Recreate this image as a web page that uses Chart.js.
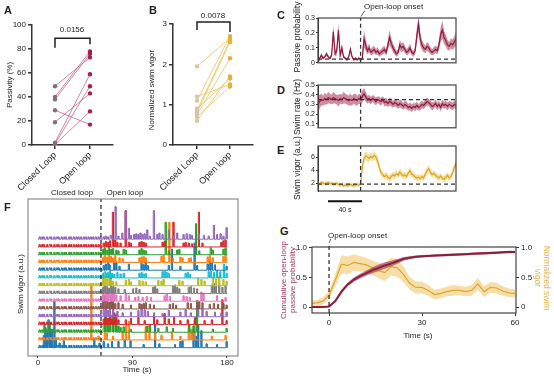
<!DOCTYPE html>
<html>
<head>
<meta charset="utf-8">
<script src="https://cdn.jsdelivr.net/npm/chart.js@4.4.1/dist/chart.umd.min.js"></script>
<style>
  body { margin: 0; background: #fff; }
  #fig { position: relative; width: 554px; height: 377px; overflow: hidden;
         font-family: "Liberation Sans", Arial, sans-serif; color: #222; }
  #fig canvas { position: absolute; }
  .t { position: absolute; white-space: nowrap; line-height: 1; }
</style>
</head>
<body>
<div id="fig"></div>
<script>
// ---- A: passivity, closed vs open loop (paired fish)
const pairLabels = ['Closed Loop', 'Open loop'];
const passClosed = [49, 40, 38, 29, 19, 2, 1, 0.5];
const passOpen   = [73, 78, 76, 17, 43, 59, 49, 28];

// ---- B: normalized swim vigor
const vigClosed = [1.95, 1.2, 1.1, 0.9, 0.85, 0.8, 0.75, 0.7, 0.6];
const vigOpen   = [2.65, 1.5, 2.7, 1.65, 2.6, 2.55, 2.15, 1.45, 1.7];

// ---- C/D/E: averaged traces around open-loop onset (time in s)
const tTrace = [
  -50,-48,-46,-44,-42,-40,-38,-36,-34,-32,
  -30,-28,-26,-24,-22,-20,-18,-16,-14,-12,
  -10,-8,-6,-4,-2,0,2,4,6,8,
  10,12,14,16,18,20,22,24,26,28,
  30,32,34,36,38,40,42,44,46,48,
  50,52,54,56,58,60,62,64,66,68,
  70,72,74,76,78,80,82,84,86,88,
  90,92,94,96,98,100,102,104,106,108,
  110,112];
const passMean = [
  0.00,0.03,0.05,0.03,0.04,0.06,0.04,0.03,0.05,0.21,
  0.06,0.08,0.22,0.05,0.10,0.04,0.03,0.02,0.04,0.09,
  0.04,0.02,0.03,0.02,0.03,0.02,0.03,0.16,0.12,0.08,
  0.10,0.07,0.08,0.09,0.07,0.08,0.06,0.07,0.08,0.09,
  0.07,0.12,0.17,0.13,0.10,0.08,0.06,0.07,0.12,0.10,
  0.11,0.09,0.07,0.08,0.10,0.07,0.06,0.08,0.18,0.26,
  0.16,0.12,0.10,0.09,0.11,0.10,0.08,0.07,0.08,0.09,
  0.08,0.12,0.19,0.22,0.17,0.15,0.12,0.11,0.13,0.12,
  0.14,0.16];
const passSem = [
  0.005,0.01,0.015,0.01,0.01,0.015,0.01,0.01,0.015,0.05,
  0.02,0.03,0.05,0.015,0.03,0.01,0.01,0.008,0.01,0.025,
  0.01,0.008,0.01,0.008,0.01,0.008,0.01,0.06,0.04,0.025,
  0.03,0.02,0.025,0.025,0.02,0.025,0.02,0.02,0.025,0.025,
  0.02,0.035,0.05,0.035,0.03,0.025,0.02,0.02,0.035,0.03,
  0.03,0.025,0.02,0.025,0.03,0.02,0.02,0.025,0.05,0.06,
  0.045,0.035,0.03,0.025,0.03,0.03,0.025,0.02,0.025,0.025,
  0.025,0.035,0.05,0.06,0.045,0.04,0.035,0.03,0.035,0.035,
  0.04,0.045];
const rateMean = [
  0.30,0.33,0.35,0.34,0.36,0.35,0.37,0.36,0.35,0.37,
  0.36,0.35,0.34,0.36,0.35,0.37,0.36,0.35,0.34,0.35,
  0.34,0.36,0.35,0.34,0.36,0.35,0.38,0.41,0.38,0.35,
  0.36,0.34,0.36,0.35,0.33,0.35,0.34,0.33,0.35,0.32,
  0.33,0.31,0.33,0.32,0.30,0.32,0.31,0.29,0.31,0.30,
  0.28,0.30,0.29,0.27,0.28,0.26,0.28,0.27,0.29,0.27,
  0.28,0.30,0.29,0.31,0.33,0.32,0.30,0.28,0.29,0.31,
  0.28,0.30,0.27,0.31,0.29,0.30,0.28,0.30,0.29,0.28,
  0.30,0.29];
const rateSem = [
  0.10,0.07,0.06,0.05,0.06,0.05,0.06,0.05,0.05,0.06,
  0.05,0.05,0.06,0.05,0.05,0.06,0.05,0.05,0.05,0.06,
  0.05,0.05,0.06,0.05,0.05,0.05,0.06,0.06,0.05,0.04,
  0.04,0.04,0.035,0.04,0.04,0.035,0.04,0.04,0.035,0.04,
  0.04,0.035,0.04,0.04,0.035,0.04,0.04,0.035,0.04,0.04,
  0.035,0.04,0.04,0.035,0.04,0.04,0.035,0.04,0.04,0.035,
  0.04,0.04,0.035,0.04,0.04,0.035,0.04,0.04,0.035,0.04,
  0.04,0.035,0.04,0.04,0.035,0.04,0.04,0.035,0.04,0.04,
  0.04,0.04];
const vigorMean = [
  2.0,1.9,2.1,2.0,1.9,2.0,2.1,1.9,2.0,1.8,
  1.9,2.0,1.8,1.7,1.8,1.6,1.7,1.6,1.7,1.8,
  1.7,1.6,1.7,1.8,1.7,1.9,4.5,5.8,6.2,6.0,
  5.8,6.1,5.9,6.3,6.0,5.4,4.4,3.6,3.3,3.0,
  3.2,2.9,2.7,3.0,3.3,3.1,3.5,3.2,3.7,3.4,
  3.1,3.3,3.0,3.6,3.9,3.4,3.2,3.0,2.8,2.9,
  2.7,3.0,2.8,3.4,3.9,4.2,3.7,3.3,3.5,3.2,
  3.0,2.8,3.1,2.7,2.6,2.9,3.2,2.8,3.0,3.6,
  4.4,5.0];
const vigorSem = [
  0.3,0.3,0.3,0.3,0.3,0.3,0.3,0.3,0.3,0.3,
  0.3,0.3,0.3,0.3,0.3,0.3,0.3,0.3,0.3,0.3,
  0.3,0.3,0.3,0.3,0.3,0.3,0.5,0.7,0.7,0.7,
  0.6,0.6,0.6,0.7,0.6,0.7,0.6,0.5,0.5,0.5,
  0.5,0.5,0.5,0.5,0.5,0.5,0.5,0.5,0.6,0.5,
  0.5,0.5,0.5,0.5,0.6,0.5,0.5,0.5,0.5,0.5,
  0.5,0.5,0.5,0.5,0.6,0.6,0.5,0.5,0.5,0.5,
  0.5,0.5,0.5,0.5,0.5,0.5,0.5,0.5,0.5,0.6,
  0.6,0.6];

// ---- F: swim bouts per fish, [time s, vigor] (fish1 = bottom trace)
const clBouts = [1, 3.5, 5, 8, 10.5, 12, 15, 17.5, 19, 22, 24.5, 26, 29, 31, 33.5, 36, 38, 40.5, 43, 45, 47.5, 50, 52, 54.5, 57, 59];
const fish1  = [[5,1.6],[6.5,2.6],[8,1.9],[9.5,3.6],[11,2.0],[12.5,2.4],[15,6.0],[16.5,1.2],[20,0.6],[24,0.9],[53,1.2],[58,0.6],[62,0.8],[66,0.5],[70,0.8],[76,0.8],[82,1.0],[87.5,0.9],[100,0.4],[111,3.0],[115,0.5],[130,0.4],[135,0.8],[137,0.9],[147.5,2.3],[150,1.5],[152,3.0],[155,2.2],[160,0.5],[170,0.4],[179,0.8]];
const fish2  = [[50.2,7.0],[57,0.5],[63,0.9],[65,0.9],[71,0.5],[80,1.1],[83,2.0],[86,2.4],[102,1.7],[105.5,1.9],[111,1.0],[117,0.6],[127,1.0],[135,0.5],[143,1.8],[145.5,1.4],[148.5,2.5],[165,0.5],[178,0.6]];
const fish3  = [[5.5,1.2],[10.5,1.1],[62,1.2],[63.5,2.0],[65,1.5],[66.5,1.8],[68,1.3],[69.5,2.2],[71,1.4],[72.5,1.6],[74,1.0],[76,0.8],[78,0.6],[81,0.7],[88,0.4],[103,0.8],[106,1.0],[114,0.5],[122,0.7],[128,0.5],[143.5,1.0],[147.5,0.8],[151,3.5],[166,0.4],[179,0.5]];
const fish4  = [[62,0.7],[64,0.9],[66,0.8],[68,1.0],[70,0.7],[72,1.5],[74,1.3],[76,0.6],[83,0.6],[88,0.8],[95,0.9],[101,0.5],[110,1.0],[113,0.6],[120,1.4],[124,0.7],[129,0.9],[135,0.5],[142,0.6],[149,0.9],[158,0.5],[165,0.6],[175,3.2],[179,0.5]];
const fish5  = [[62,0.9],[64,1.4],[66,0.8],[68,1.0],[71,1.6],[75,0.7],[80,0.5],[88,0.6],[95,0.8],[98,1.0],[101,0.9],[104,0.7],[110,0.5],[118,0.4],[124,0.8],[135,0.6],[140,0.9],[145,0.5],[152,1.4],[156,1.0],[160,0.7],[168,0.6],[174,0.5],[179,0.6]];
const fish6  = [[61.5,1.0],[63,1.7],[65,1.2],[67,0.9],[69,1.5],[71,1.0],[73,0.7],[76,0.8],[80,0.6],[88,0.5],[96,0.7],[98,0.6],[100,0.7],[102,0.8],[106,0.6],[110,0.5],[125,0.6],[128,0.7],[131,0.5],[142,0.8],[145,0.7],[151,1.1],[153,1.0],[156,0.8],[163,0.6],[167,0.7],[171,0.6],[176,0.7],[179,0.5]];
const fish7  = [[61.5,1.2],[63,2.0],[64.5,1.1],[66,1.5],[68,0.9],[70,1.8],[72,1.0],[74,0.8],[78,0.7],[83,0.9],[86,0.7],[92,0.5],[95,0.6],[99,0.5],[103,0.6],[107,0.5],[120,0.7],[122,0.9],[125,0.6],[138,0.7],[141,0.6],[144,0.5],[155,1.2],[157,1.0],[170,0.7],[178,0.5]];
const fish8  = [[61.5,0.8],[63,1.1],[65,0.9],[67,0.7],[69,2.4],[71,0.9],[73,0.8],[76,0.6],[82,0.5],[90,0.6],[93,0.7],[96,0.5],[109,0.8],[111,0.9],[113,0.6],[128,1.0],[130,1.1],[132,0.8],[134,0.6],[143,0.8],[145,0.9],[148,0.7],[151,0.6],[165,1.1],[167,1.3],[169,0.9],[172,1.2],[175,0.8],[178,1.0]];
const fish9  = [[61.5,1.0],[63,1.2],[65,0.9],[67,1.1],[69,0.8],[71,0.6],[74,0.5],[83,0.7],[86,0.8],[88,0.5],[96,0.7],[99,0.6],[102,0.5],[114,0.7],[117,0.6],[119,0.8],[134,0.7],[137,0.6],[152,1.0],[155,0.8],[158,0.6],[166,1.1],[169,0.9],[172,1.2],[176,0.8],[179,0.6]];
const fish10 = [[61.5,0.6],[63,0.8],[64.5,0.6],[66,0.7],[68,0.9],[70,0.6],[72,0.5],[75,0.7],[78,0.5],[81,0.6],[96,0.6],[98,0.7],[100,0.5],[102,0.6],[118,0.8],[120,0.9],[122,0.7],[124,0.6],[140,0.6],[142,0.7],[144,0.5],[162,0.8],[164,0.9],[167,0.7],[170,1.0],[173,0.8],[176.5,1.8],[179,0.6]];
const fish11 = [[62,0.6],[64,0.8],[66,1.0],[67.5,0.7],[72,1.0],[74,1.1],[77,0.5],[86,0.8],[98,0.9],[100,0.7],[102,1.0],[104,0.6],[124,0.6],[127,2.7],[135,0.5],[148.5,3.5],[151,0.6],[161,0.8],[163,1.2],[165,1.0],[168,0.7],[179,0.5]];
const fish12 = [[61.5,0.6],[63,0.9],[65,0.7],[67,1.0],[69,0.8],[71,0.6],[73,0.9],[77,0.6],[80,0.5],[96,0.6],[98,0.7],[100,0.8],[102,0.6],[117,0.8],[119,0.9],[124.5,5.2],[128,0.5],[135,0.7],[137,0.6],[143,0.5],[145,0.6],[161,0.7],[163,0.9],[166,0.6],[176,0.8],[178,1.0]];
const fish13 = [[61.5,0.7],[63,0.9],[65,0.6],[67,1.0],[69,0.7],[71,0.8],[74,0.6],[76,0.5],[81,0.7],[83,0.6],[96,0.6],[98,0.8],[100,0.6],[102,0.5],[121,4.2],[124,0.5],[132,0.6],[134,0.7],[150,4.0],[153,0.5],[164,0.9],[166,0.6],[176,0.7],[178,0.9]];
const fish14 = [[62,0.5],[64,0.7],[66,0.6],[68,0.8],[70.8,4.5],[73,0.9],[75,0.6],[78,0.5],[82.9,4.7],[86,0.6],[88,0.5],[96,0.6],[98,0.7],[100,0.6],[102,0.5],[118,0.6],[120,0.7],[128.4,3.2],[138,0.5],[140,0.6],[143,0.5],[146,0.4],[152.7,4.5],[156,0.5],[174,0.6],[176,0.8],[178,0.9]];
const fish15 = [[62,0.3],[64,0.4],[66,0.3],[68.6,0.5],[70,0.4],[73.3,4.2],[76,0.4],[79.7,0.8],[82.9,3.6],[86,1.4],[88,0.5],[91,0.6],[93,0.7],[95,0.6],[97,0.8],[99,0.6],[101,0.7],[103.5,1.2],[106,0.4],[109.8,3.7],[113,0.6],[115,0.8],[118,0.6],[124,1.2],[128,0.4],[132,0.8],[138,0.6],[141,0.7],[144,0.6],[146,0.5],[152.7,0.7],[157.5,0.5],[162,0.4],[167,1.8],[170,0.6],[173.3,0.7],[176,0.4],[179,1.5]];
const fishTraces = [fish1, fish2, fish3, fish4, fish5, fish6, fish7, fish8, fish9, fish10, fish11, fish12, fish13, fish14, fish15];
const fTicks = [0, 90, 180];

// ---- G: cumulative passive probability and normalized vigor after onset
const tOnset = [-6,-4,-2,0,2,4,6,8,10,12, 14,16,18,20,22,24,26,28,30,32, 34,36,38,40,42,44,46,48,50,52, 54,56,58,60];
const cumPass = [0,0,0,0.01,0.1,0.26,0.38,0.46,0.52,0.57, 0.62,0.66,0.7,0.73,0.77,0.81,0.83,0.845,0.855,0.86,
                 0.865,0.87,0.875,0.88,0.885,0.89,0.895,0.9,0.905,0.91, 0.915,0.92,0.925,0.925];
const cumPassSem = [0.005,0.005,0.005,0.01,0.02,0.03,0.03,0.035,0.04,0.045, 0.05,0.055,0.055,0.05,0.04,0.03,0.025,0.02,0.02,0.02,
                    0.02,0.02,0.02,0.02,0.02,0.02,0.02,0.02,0.02,0.02, 0.02,0.02,0.02,0.02];
const normVig = [0.06,0.07,0.1,0.2,0.45,0.72,0.7,0.75,0.73,0.71, 0.66,0.61,0.58,0.68,0.66,0.55,0.4,0.33,0.33,0.28,
                 0.21,0.23,0.26,0.28,0.28,0.26,0.28,0.39,0.26,0.33, 0.32,0.27,0.24,0.23];
const normVigSem = [0.05,0.05,0.06,0.07,0.1,0.15,0.15,0.14,0.13,0.12, 0.12,0.13,0.14,0.15,0.15,0.13,0.11,0.1,0.1,0.09,
                    0.08,0.08,0.08,0.09,0.08,0.08,0.09,0.1,0.09,0.09, 0.09,0.08,0.07,0.07];

// ---------------------------------------------------------------
const fig = document.getElementById('fig');
const FAM = '"Liberation Sans", Arial, sans-serif';
const TAB10 = ['#1f77b4','#ff7f0e','#2ca02c','#d62728','#9467bd','#8c564b','#e377c2','#7f7f7f','#bcbd22','#17becf'];
const CRIMSON = '#8c1c3c', CRIMSON_BAND = 'rgba(165,45,80,0.55)';
const GOLD = '#d9a521', GOLD_BAND = 'rgba(240,198,90,0.55)';

function canvas(left, top, w, h) {
  const c = document.createElement('canvas');
  c.width = w; c.height = h;
  c.style.left = left + 'px'; c.style.top = top + 'px';
  fig.appendChild(c);
  return c;
}
function label(text, x, y, o = {}) {
  const d = document.createElement('div');
  d.className = 't';
  d.textContent = text;
  d.style.left = x + 'px';
  d.style.top = y + 'px';
  d.style.fontSize = (o.size || 8) + 'px';
  if (o.color) d.style.color = o.color;
  if (o.bold) d.style.fontWeight = 'bold';
  d.style.transform = o.left ? 'translate(0,-50%)' : 'translate(-50%,-50%) rotate(' + (o.rot || 0) + 'deg)';
  fig.appendChild(d);
}
const ticksAt = vals => s => { s.ticks = vals.map(v => ({ value: v })); };
const fixW = w => s => { s.width = w; };
const fixH = h => s => { s.height = h; };
const xy = (xs, ys) => xs.map((x, i) => ({ x: x, y: ys[i] }));

const frameBox = {
  id: 'frameBox',
  afterDatasetsDraw(chart, args, opts) {
    if (!opts.color) return;
    const a = chart.chartArea, ctx = chart.ctx;
    ctx.save();
    ctx.strokeStyle = opts.color;
    ctx.lineWidth = opts.width || 1;
    ctx.strokeRect(a.left, a.top, a.right - a.left, a.bottom - a.top);
    ctx.restore();
  }
};

function baseOptions(pad) {
  return {
    responsive: false, animation: false,
    layout: { padding: pad },
    plugins: { legend: { display: false }, tooltip: { enabled: false } },
    elements: { line: { tension: 0 }, point: { radius: 0 } }
  };
}
function hiddenAxis(extra) {
  return Object.assign({ type: 'linear', ticks: { display: false }, grid: { display: false }, border: { display: false } }, extra);
}
function tickAxis(extra, size, width) {
  return Object.assign({
    type: 'linear',
    ticks: { font: { family: FAM, size: size || 8 }, color: '#222', padding: 2, autoSkip: false },
    grid: { drawOnChartArea: false, tickLength: 3, color: '#333', lineWidth: width || 1 },
    border: { display: true, color: '#333', width: width || 1 }
  }, extra);
}

// ---------- A and B: paired dot plots
function pairedPanel(left, area, yMax, yTicks, closed, open, cLine, cPt1, cPt2, bracket, xMin, xMax) {
  const W = 130, H = 190;
  const ds = [];
  closed.forEach((v, i) => ds.push({ data: [{ x: 0, y: v }, { x: 1, y: open[i] }], borderColor: cLine, borderWidth: 1, order: 2 }));
  ds.push({ data: closed.map(v => ({ x: 0, y: v })), showLine: false, pointRadius: 2.2, pointBorderWidth: 0, pointBackgroundColor: cPt1, order: 1 });
  ds.push({ data: open.map(v => ({ x: 1, y: v })), showLine: false, pointRadius: 2.2, pointBorderWidth: 0, pointBackgroundColor: cPt2, order: 1 });
  ds.push({ data: bracket, borderColor: '#222', borderWidth: 1.5, clip: false, order: 0 });
  const opt = baseOptions({ left: 0, top: area[1], right: left + W - area[2], bottom: 0 });
  opt.scales = {
    x: tickAxis({ min: xMin, max: xMax, afterBuildTicks: ticksAt([0, 1]), afterFit: fixH(H - area[3]) }, 9, 1.5),
    y: tickAxis({ min: 0, max: yMax, afterBuildTicks: ticksAt(yTicks), afterFit: fixW(area[0] - left) }, 8, 1.5)
  };
  opt.scales.x.ticks.callback = (v, i) => pairLabels[i];
  opt.scales.x.ticks.minRotation = 45;
  opt.scales.x.ticks.maxRotation = 45;
  opt.scales.x.ticks.padding = 1;
  opt.scales.x.grid.tickLength = 4;
  opt.scales.y.grid.tickLength = 4;
  new Chart(canvas(left, 0, W, H), { type: 'line', data: { datasets: ds }, options: opt });
}
pairedPanel(0, [32, 25, 113, 145], 100, [0, 20, 40, 60, 80, 100], passClosed, passOpen,
  'rgba(195,95,130,0.75)', '#8a6b7b', '#a3204c',
  [{ x: 0, y: 81 }, { x: 0, y: 89 }, { x: 1, y: 89 }, { x: 1, y: 84 }], -0.657, 1.657);
pairedPanel(145, [173, 24, 253, 145], 3, [0, 1, 2, 3], vigClosed, vigOpen,
  'rgba(236,196,96,0.8)', '#d8c4a6', '#e3b232',
  [{ x: 0, y: 2.85 }, { x: 0, y: 3.05 }, { x: 1, y: 3.05 }, { x: 1, y: 2.8 }], -0.727, 1.697);

// ---------- C, D, E: mean +/- sem traces
function tracePanel(top, h, area, yMin, yMax, yTicks, mean, sem, line, band, hLevel, extra) {
  const L = 285, W = 175;
  const up = mean.map((m, i) => m + sem[i]);
  const lo = mean.map((m, i) => m - sem[i]);
  const ds = [
    { data: xy(tTrace, up), borderWidth: 0, fill: '+1', backgroundColor: band, order: 5 },
    { data: xy(tTrace, lo), borderWidth: 0, fill: false, order: 5 },
    { data: xy(tTrace, mean), borderColor: line, borderWidth: 1.2, order: 3 },
    { data: [{ x: -50, y: hLevel }, { x: 112, y: hLevel }], borderColor: '#333', borderWidth: 1.2, borderDash: [4, 3], order: 1 },
    { data: [{ x: 0, y: yMin }, { x: 0, y: yMax }], borderColor: '#333', borderWidth: 1.3, borderDash: [4, 3], order: 0 }
  ].concat(extra || []);
  const opt = baseOptions({ left: 0, top: area[1] - top, right: L + W - area[2], bottom: 0 });
  opt.scales = {
    x: hiddenAxis({ min: -50, max: 112, afterFit: fixH(top + h - area[3]) }),
    y: tickAxis({ min: yMin, max: yMax, afterBuildTicks: ticksAt(yTicks), afterFit: fixW(area[0] - L) }, 7, 1)
  };
  opt.scales.y.ticks.callback = v => String(v);
  opt.scales.y.ticks.padding = 1;
  opt.scales.y.grid.tickLength = 2;
  opt.plugins.frameBox = { color: '#444', width: 1.2 };
  new Chart(canvas(L, top, W, h), { type: 'line', data: { datasets: ds }, options: opt, plugins: [frameBox] });
}
tracePanel(0, 68, [318, 18, 456, 63], 0, 0.3, [0, 0.1, 0.2, 0.3], passMean, passSem, CRIMSON, CRIMSON_BAND, 0.025,
  [{ data: [{ x: 0.5, y: 0.31 }, { x: 5, y: 0.35 }], borderColor: '#333', borderWidth: 0.8, clip: false, order: 0 }]);
tracePanel(76, 57, [318, 85, 456, 128], 0.06, 0.5, [0.1, 0.2, 0.3, 0.4, 0.5], rateMean, rateSem, CRIMSON, CRIMSON_BAND, 0.35);
tracePanel(136, 80, [318, 146, 456, 191], 0.8, 7.7, [2, 4, 6], vigorMean, vigorSem, GOLD, GOLD_BAND, 1.85,
  [{ data: [{ x: -38.3, y: -0.77 }, { x: 1.7, y: -0.77 }], borderColor: '#111', borderWidth: 2.2, clip: false, order: 0 }]);

// ---------- F: stacked swim-vigor traces
(function () {
  const L = 0, T = 195, W = 245, H = 182, area = [28, 199, 238, 356];
  const ds = fishTraces.map((ev, k) => {
    const all = ev.concat(clBouts.map(t => [t, 0.3])).sort((a, b) => a[0] - b[0]);
    const pts = [{ x: 0, y: k }];
    all.forEach(([t, v]) => {
      pts.push({ x: t, y: k }, { x: t, y: k + v }, { x: t + 1, y: k + v }, { x: t + 1, y: k });
    });
    pts.push({ x: 180, y: k });
    return { data: pts, borderColor: TAB10[k % 10], borderWidth: 1, order: 20 - k };
  });
  ds.push({ data: [{ x: 60, y: -1.07 }, { x: 60, y: 19.19 }], borderColor: '#222', borderWidth: 1.2, borderDash: [4, 3], order: 0 });
  const opt = baseOptions({ left: 0, top: area[1] - T, right: L + W - area[2], bottom: 0 });
  opt.scales = {
    x: tickAxis({ min: -9.5, max: 190.5, afterBuildTicks: ticksAt(fTicks), afterFit: fixH(T + H - area[3]) }, 8, 1),
    y: hiddenAxis({ min: -1.07, max: 19.19, afterFit: fixW(area[0] - L) })
  };
  opt.scales.x.border.display = false;
  opt.scales.x.ticks.padding = 0;
  opt.scales.x.grid.tickLength = 2;
  opt.plugins.frameBox = { color: '#777', width: 1 };
  new Chart(canvas(L, T, W, H), { type: 'line', data: { datasets: ds }, options: opt, plugins: [frameBox] });
})();

// ---------- G: cumulative passive probability vs normalized vigor
(function () {
  const L = 295, T = 233, W = 243, H = 94, area = [312, 247, 516, 313];
  const ds = [
    { data: xy(tOnset, normVig.map((m, i) => m + normVigSem[i])), yAxisID: 'y2', borderWidth: 0, fill: '+1', backgroundColor: 'rgba(240,195,95,0.55)', order: 9 },
    { data: xy(tOnset, normVig.map((m, i) => m - normVigSem[i])), yAxisID: 'y2', borderWidth: 0, order: 9 },
    { data: xy(tOnset, normVig), yAxisID: 'y2', borderColor: '#d8a933', borderWidth: 1.2, order: 8 },
    { data: xy(tOnset, cumPass.map((m, i) => m + cumPassSem[i])), borderWidth: 0, fill: '+1', backgroundColor: 'rgba(150,40,75,0.6)', order: 6 },
    { data: xy(tOnset, cumPass.map((m, i) => m - cumPassSem[i])), borderWidth: 0, order: 6 },
    { data: xy(tOnset, cumPass), borderColor: '#8a1f3d', borderWidth: 2, order: 5 },
    { data: [{ x: 0, y: -0.1 }, { x: 0, y: 1.07 }], borderColor: '#222', borderWidth: 1.2, borderDash: [4, 3], clip: false, order: 0 },
    { data: [{ x: 0.05, y: 1.08 }, { x: 0.6, y: 1.15 }], borderColor: '#333', borderWidth: 0.8, clip: false, order: 0 }
  ];
  const opt = baseOptions({ left: 0, top: area[1] - T, right: 0, bottom: 0 });
  const gy = v => (v === 0 ? '0' : v.toFixed(1));
  opt.scales = {
    x: tickAxis({ min: -5.5, max: 60.3, afterBuildTicks: ticksAt([0, 30, 60]), afterFit: fixH(T + H - area[3]) }, 8, 1),
    y: tickAxis({ min: -0.1, max: 1.01, afterBuildTicks: ticksAt([0, 0.5, 1]), afterFit: fixW(area[0] - L) }, 8, 1),
    y2: tickAxis({ position: 'right', min: -0.1, max: 1.01, afterBuildTicks: ticksAt([0, 0.5, 1]), afterFit: fixW(L + W - area[2]) }, 8, 1)
  };
  opt.scales.y.ticks.callback = gy;
  opt.scales.y2.ticks.callback = gy;
  ['x', 'y', 'y2'].forEach(k => { opt.scales[k].border.display = false; });
  opt.plugins.frameBox = { color: '#444', width: 1.2 };
  new Chart(canvas(L, T, W, H), { type: 'line', data: { datasets: ds }, options: opt, plugins: [frameBox] });
})();

// ---------- text
label('A', 4, 10, { left: true, size: 11, bold: true });
label('B', 149, 10, { left: true, size: 11, bold: true });
label('C', 277, 15, { left: true, size: 11, bold: true });
label('D', 277, 90, { left: true, size: 11, bold: true });
label('E', 277, 150, { left: true, size: 11, bold: true });
label('F', 4, 207, { left: true, size: 11, bold: true });
label('G', 280, 231, { left: true, size: 11, bold: true });

label('Passivity (%)', 10, 85, { rot: -90 });
label('0.0156', 72, 30);
label('Normalized swim vigor', 152, 90, { rot: -90 });
label('0.0078', 213, 16);
label('Passive probability', 297, 37, { rot: -90, size: 8.5 });
label('Open-loop onset', 364, 7, { left: true, size: 8 });
label('Swim rate (Hz)', 297, 107, { rot: -90, size: 8.5 });
label('Swim vigor (a.u.)', 297, 168, { rot: -90, size: 8.5 });
label('40 s', 345, 209, { size: 7 });
label('Closed loop', 72, 193);
label('Open loop', 125, 193);
label('Swim vigor (a.u.)', 21, 284, { rot: -90 });
label('Time (s)', 137, 370);
label('Open-loop onset', 328, 236, { left: true });
label('Cumulative open-loop', 284, 280, { rot: -90, color: '#a8385a' });
label('passive probability', 293, 280, { rot: -90, color: '#a8385a' });
label('Normalized swim', 547, 278, { rot: 90, color: '#e3b64e', size: 8.5 });
label('vigor', 538, 278, { rot: 90, color: '#e3b64e', size: 8.5 });
label('Time (s)', 418, 336);
</script>
</body>
</html>
